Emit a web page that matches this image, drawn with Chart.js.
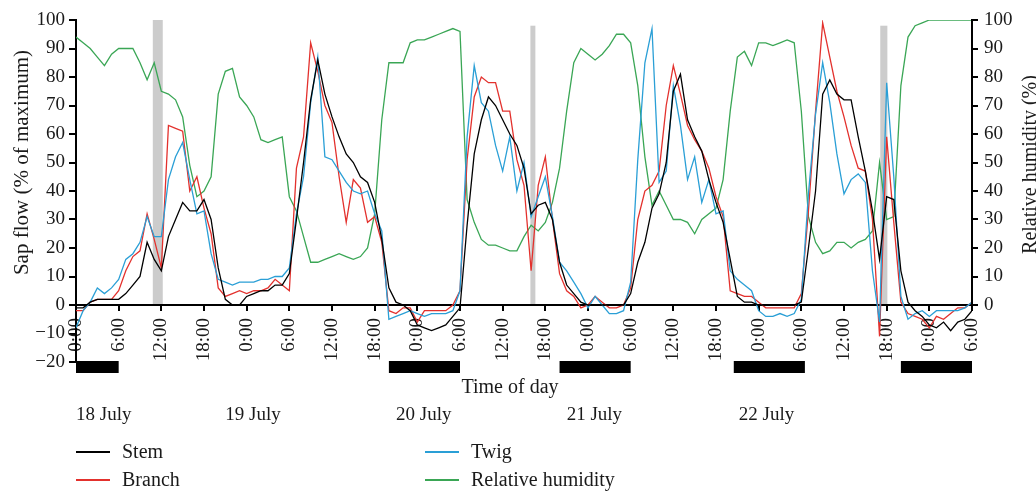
<!DOCTYPE html>
<html>
<head>
<meta charset="utf-8">
<script src="https://cdn.jsdelivr.net/npm/chart.js@4.4.1/dist/chart.umd.min.js"></script>
<style>
  html, body { margin: 0; padding: 0; background: #fff; }
</style>
</head>
<body>
<canvas id="myChart" width="1036" height="492"></canvas>
<script>
// hourly readings, hour 0 = 18 July 0:00, last = 23 July 6:00
const hours = Array.from({ length: 127 }, (_, i) => i);
const tickLabels = ['0:00', '6:00', '12:00', '18:00', '0:00', '6:00', '12:00', '18:00',
  '0:00', '6:00', '12:00', '18:00', '0:00', '6:00', '12:00', '18:00',
  '0:00', '6:00', '12:00', '18:00', '0:00', '6:00'];

const stem = [
  -1, -1, 1, 2, 2, 2, 2, 4, 7, 10, 22, 16, 12, 24, 30, 36, 33, 33, 37, 30, 13, 2,
  0, 0, 3, 4, 5, 5, 7, 7, 11, 30, 50, 72, 86, 74, 66, 59, 53, 50, 45, 43, 36, 23,
  6, 1, 0, -2, -7, -8, -9, -8, -7, -4, -1, 28, 53, 65, 73, 70, 65, 60, 56, 48, 32, 35,
  36, 30, 15, 7, 4, 1, 0, 0, 0, 0, 0, 0, 4, 15, 22, 34, 39, 50, 75, 81, 65, 59,
  54, 44, 36, 29, 16, 3, 1, 1, 0, 0, 0, 0, 0, 0, 1, 20, 40, 74, 79, 74, 72,
  72, 59, 47, 33, 16, 38, 37, 12, 1, -2, -4, -7, -8, -6, -9, -6, -5, -2
];
const branch = [
  -2, -2, 1, 2, 2, 2, 5, 12, 17, 19, 32, 23, 13, 63, 62, 61, 40, 45, 34, 25, 6, 3,
  4, 5, 4, 5, 5, 6, 9, 7, 5, 48, 59, 92, 82, 70, 64, 45, 29, 44, 41, 29, 31, 22,
  -2, -3, -1, -1, -6, -2, -2, -2, -2, 0, 5, 51, 73, 80, 78, 78, 68, 68, 51, 42, 12, 42,
  52, 30, 11, 5, 3, -1, 0, 3, 1, -1, -1, 0, 6, 30, 40, 42, 47, 70, 84, 74, 63, 58,
  54, 48, 38, 31, 5, 4, 3, 3, 1, -1, -1, -1, -1, -1, 4, 33, 68, 99, 87, 75, 66,
  56, 48, 47, 30, -11, 59, 29, 1, -3, -4, -5, -8, -4, -5, -3, -1, -1, 1
];
const twig = [
  -8, -2, 1, 6, 4, 6, 9, 16, 18, 22, 31, 24, 24, 44, 52, 57, 44, 32, 33, 18, 9, 8,
  7, 8, 8, 8, 9, 9, 10, 10, 13, 32, 45, 71, 87, 52, 51, 47, 43, 40, 39, 40, 32, 26,
  -5, -4, -3, -2, -3, -4, -3, -3, -3, -2, 5, 59, 84, 71, 68, 56, 47, 59, 40, 50, 31, 38,
  45, 31, 15, 12, 8, 4, -1, 3, 0, -3, -3, -2, 8, 51, 85, 97, 43, 47, 77, 63, 44, 52,
  36, 44, 32, 33, 12, 9, 7, 5, -2, -4, -4, -3, -4, -3, 2, 39, 67, 85, 71, 53, 39,
  44, 46, 43, 12, -6, 78, 45, 3, -5, -3, -2, -4, -2, -2, -2, -2, -1, 1
];
const humidity = [
  94, 92, 90, 87, 84, 88, 90, 90, 90, 85, 79, 85, 75, 74, 72, 66, 49, 38, 40, 45, 74, 82,
  83, 73, 70, 66, 58, 57, 58, 59, 38, 33, 24, 15, 15, 16, 17, 18, 17, 16, 17, 20, 32, 65,
  85, 85, 85, 92, 93, 93, 94, 95, 96, 97, 96, 37, 29, 23, 21, 21, 20, 19, 19, 24, 28, 26,
  29, 36, 48, 68, 85, 90, 88, 86, 88, 91, 95, 95, 92, 77, 52, 35, 40, 35, 30, 30, 29, 25,
  30, 32, 34, 44, 68, 87, 89, 84, 92, 92, 91, 92, 93, 92, 68, 31, 22, 18, 19, 22, 22,
  20, 22, 23, 26, 50, 30, 31, 77, 94, 98, 99, 100, 100, 100, 100, 100, 100, 100
];

// night periods (black bars) and missing-data periods (grey bars), in hours
const nightStart = [0, 44, 68, 92.5, 116];
const nightEnd = [6, 54, 78, 102.5, 126];
const gapStart = [10.8, 63.9, 113.1];
const gapEnd = [12.2, 64.6, 114.1];
const gapTop = [100, 98, 98];

const dayLabels = ['18 July', '19 July', '20 July', '21 July', '22 July'];
const dayLabelHours = [0, 21, 45, 69, 93.2];

const FONT = "'Liberation Serif', 'DejaVu Serif', serif";
const INK = '#1a1a1a';

function pts(arr) {
  return arr.map((v, i) => ({ x: hours[i], y: v }));
}

const extras = {
  id: 'extras',
  beforeDatasetsDraw(chart) {
    const { ctx, scales: { x, y } } = chart;
    ctx.save();
    ctx.fillStyle = '#cccccc';
    gapStart.forEach((s, i) => {
      const x0 = x.getPixelForValue(s);
      const x1 = x.getPixelForValue(gapEnd[i]);
      const top = y.getPixelForValue(gapTop[i]);
      const bot = y.getPixelForValue(0) - 1;
      ctx.fillRect(x0, top, x1 - x0, bot - top);
    });
    ctx.restore();
  },
  afterDraw(chart) {
    const { ctx, chartArea, scales: { x, y, y2 } } = chart;
    ctx.save();

    // night bars under the axis
    ctx.fillStyle = '#000';
    nightStart.forEach((s, i) => {
      const x0 = x.getPixelForValue(s);
      const x1 = x.getPixelForValue(nightEnd[i]);
      ctx.fillRect(x0, chartArea.bottom - 1, x1 - x0, 12);
    });

    // right axis line only spans 0..100
    ctx.strokeStyle = '#000';
    ctx.lineWidth = 2;
    ctx.beginPath();
    ctx.moveTo(chartArea.right, y2.getPixelForValue(0) + 1);
    ctx.lineTo(chartArea.right, y2.getPixelForValue(100) - 1);
    ctx.stroke();

    ctx.fillStyle = INK;
    // axis titles
    ctx.textAlign = 'center';
    ctx.textBaseline = 'middle';
    ctx.font = '21px ' + FONT;
    ctx.save();
    ctx.translate(22, (y.getPixelForValue(0) + y.getPixelForValue(100)) / 2);
    ctx.rotate(-Math.PI / 2);
    ctx.fillText('Sap flow (% of maximum)', 0, 0);
    ctx.restore();
    ctx.font = '20px ' + FONT;
    ctx.save();
    ctx.translate(1031, (y.getPixelForValue(0) + y.getPixelForValue(100)) / 2 + 2);
    ctx.rotate(-Math.PI / 2);
    ctx.fillText('Relative humidity (%)', 0, 0);
    ctx.restore();

    // x title and day labels
    ctx.textBaseline = 'alphabetic';
    ctx.font = '20px ' + FONT;
    ctx.fillText('Time of day', 510, 393);
    ctx.textAlign = 'left';
    ctx.font = '19px ' + FONT;
    dayLabels.forEach((d, i) => {
      ctx.fillText(d, x.getPixelForValue(dayLabelHours[i]), 420);
    });

    // legend, two columns
    const items = [
      ['Stem', '#000000', 76, 452],
      ['Twig', '#2a9fd6', 425, 452],
      ['Branch', '#e3312d', 76, 480],
      ['Relative humidity', '#3aa655', 425, 480]
    ];
    ctx.font = '20px ' + FONT;
    ctx.textBaseline = 'middle';
    items.forEach(([label, color, lx, ly]) => {
      ctx.strokeStyle = color;
      ctx.lineWidth = 2.2;
      ctx.beginPath();
      ctx.moveTo(lx, ly);
      ctx.lineTo(lx + 34, ly);
      ctx.stroke();
      ctx.fillStyle = INK;
      ctx.fillText(label, lx + 46, ly + 1);
    });
    ctx.restore();
  }
};

const ctx = document.getElementById('myChart');
new Chart(ctx, {
  type: 'line',
  data: {
    datasets: [
      { label: 'Stem', data: pts(stem), borderColor: '#000000', yAxisID: 'y', order: 1 },
      { label: 'Twig', data: pts(twig), borderColor: '#2a9fd6', yAxisID: 'y', order: 2 },
      { label: 'Branch', data: pts(branch), borderColor: '#e3312d', yAxisID: 'y', order: 3 },
      { label: 'Relative humidity', data: pts(humidity), borderColor: '#3aa655', yAxisID: 'y2', order: 4 }
    ]
  },
  options: {
    responsive: false,
    animation: false,
    devicePixelRatio: 1,
    layout: { padding: { top: 20, bottom: 130, left: 0, right: 0 } },
    elements: {
      line: { borderWidth: 1.3, tension: 0, fill: false },
      point: { radius: 0 }
    },
    plugins: {
      legend: { display: false },
      tooltip: { enabled: false }
    },
    scales: {
      x: {
        type: 'linear',
        position: { y: 0 },
        min: 0,
        max: 126,
        border: { color: '#000', width: 2 },
        grid: { drawOnChartArea: false, color: '#000', lineWidth: 2, tickLength: 5 },
        ticks: {
          stepSize: 6,
          autoSkip: false,
          minRotation: 90,
          maxRotation: 90,
          padding: 8,
          color: INK,
          font: { family: FONT, size: 19 },
          callback: v => tickLabels[Math.round(v / 6)]
        }
      },
      y: {
        position: 'left',
        min: -20,
        max: 100,
        afterFit: s => { s.width = 76; },
        border: { color: '#000', width: 2 },
        grid: { drawOnChartArea: false, color: '#000', lineWidth: 2, tickLength: 7 },
        ticks: {
          stepSize: 10,
          padding: 4,
          color: INK,
          font: { family: FONT, size: 19 },
          callback: v => (v < 0 ? '\u2212' + Math.abs(v) : String(v))
        }
      },
      y2: {
        position: 'right',
        min: -20,
        max: 100,
        afterFit: s => { s.width = 64; },
        afterBuildTicks: s => { s.ticks = s.ticks.filter(t => t.value >= 0); },
        border: { display: false },
        grid: { drawOnChartArea: false, color: '#000', lineWidth: 2, tickLength: 6 },
        ticks: {
          stepSize: 10,
          padding: 6,
          color: INK,
          font: { family: FONT, size: 19 }
        }
      }
    }
  },
  plugins: [extras]
});
</script>
</body>
</html>
